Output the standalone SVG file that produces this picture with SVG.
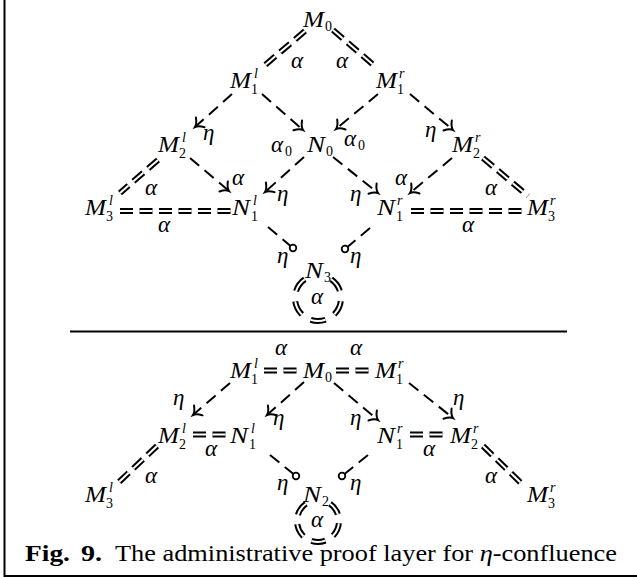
<svg xmlns="http://www.w3.org/2000/svg" width="637" height="577" viewBox="0 0 637 577">
<style>
.m{font-family:"Liberation Serif","Times New Roman",serif;font-style:italic;font-size:23px;fill:#000}
.s{font-family:"Liberation Serif","Times New Roman",serif;font-style:normal;font-size:14px;fill:#000}
.si{font-family:"Liberation Serif","Times New Roman",serif;font-style:italic;font-size:14px;fill:#000}
.cap{font-family:"Liberation Serif","Times New Roman",serif;font-size:23px;fill:#000}
.dbo{fill:none;stroke:#000;stroke-width:6;stroke-dasharray:13 6.5}
.dbi{fill:none;stroke:#fff;stroke-width:2;stroke-dasharray:13 6.5}
.ar{fill:none;stroke:#000;stroke-width:2;stroke-dasharray:12 7;marker-end:url(#to)}
.lp{fill:none;stroke:#000;stroke-width:2;stroke-dasharray:12 7}
.tip{fill:#fff;stroke:#000;stroke-width:1.8}
.rule{stroke:#000;stroke-width:2;fill:none}
</style>
<defs>
<marker id="to" markerUnits="userSpaceOnUse" markerWidth="20" markerHeight="20" refX="0" refY="0" viewBox="-10 -10 20 20" orient="auto" overflow="visible">
<path d="M-7,-6.5 C-4.5,-2.5 -2,-0.6 0,0 C-2,0.6 -4.5,2.5 -7,6.5" fill="none" stroke="#000" stroke-width="2" stroke-linecap="round" stroke-dasharray="none"/>
</marker>
</defs>
<rect width="637" height="577" fill="#fff"/>
<g id="frame">
<line class="rule" x1="4.5" y1="0" x2="4.5" y2="577"/>
<line class="rule" x1="4" y1="576" x2="637" y2="576"/>
<line class="rule" x1="70" y1="331.5" x2="567" y2="331.5"/>
</g>
<g id="connectors">
<path class="dbo" d="M305,31 L264,66"/><path class="dbi" d="M305,31 L264,66"/>
<path class="dbo" d="M333,30 L377,68"/><path class="dbi" d="M333,30 L377,68"/>
<path class="dbo" d="M158,160 L120,193"/><path class="dbi" d="M158,160 L120,193"/>
<path class="dbo" d="M483,158 L528,196"/><path class="dbi" d="M483,158 L528,196"/>
<path class="dbo" d="M120,211 L231,211"/><path class="dbi" d="M120,211 L231,211"/>
<path class="dbo" d="M411,211 L526,211"/><path class="dbi" d="M411,211 L526,211"/>
<path class="ar" d="M232,94 L195,127"/>
<path class="ar" d="M262,94 L303,130"/>
<path class="ar" d="M378,94 L336,129"/>
<path class="ar" d="M410,94 L453,130"/>
<path class="ar" d="M190,158 L229,191"/>
<path class="ar" d="M304,157 L265,192"/>
<path class="ar" d="M333,157 L378,193"/>
<path class="ar" d="M452,158 L410,193"/>
<path class="lp" d="M268,227 L293,248"/><circle class="tip" cx="293" cy="248" r="3.3"/>
<path class="lp" d="M370,228 L345,249"/><circle class="tip" cx="345" cy="249" r="3.3"/>
<path class="dbo" style="stroke-dasharray:15 10.3" d="M304.8,279.2 A23,23 0 1 0 331.2,279.2"/>
<path class="dbi" style="stroke-dasharray:15 10.3" d="M304.8,279.2 A23,23 0 1 0 331.2,279.2"/>
<path class="dbo" d="M264,370.5 L301,370.5"/><path class="dbi" d="M264,370.5 L301,370.5"/>
<path class="dbo" d="M336,370.5 L373,370.5"/><path class="dbi" d="M336,370.5 L373,370.5"/>
<path class="dbo" d="M193,434.5 L229,434.5"/><path class="dbi" d="M193,434.5 L229,434.5"/>
<path class="dbo" d="M410,434.5 L448,434.5"/><path class="dbi" d="M410,434.5 L448,434.5"/>
<path class="dbo" d="M157,446 L119,482"/><path class="dbi" d="M157,446 L119,482"/>
<path class="dbo" d="M483,446 L522,484"/><path class="dbi" d="M483,446 L522,484"/>
<path class="ar" d="M230,383 L193,415"/>
<path class="ar" d="M304,382 L267,415"/>
<path class="ar" d="M334,383 L378,420"/>
<path class="ar" d="M409,383 L453,418"/>
<path class="lp" d="M270,455 L296,476"/><circle class="tip" cx="296" cy="476" r="3.3"/>
<path class="lp" d="M368,455 L342,476"/><circle class="tip" cx="342" cy="476" r="3.3"/>
<path class="dbo" style="stroke-dasharray:14 9.1" d="M305.95,503.8 A21,21 0 1 0 330.05,503.8"/>
<path class="dbi" style="stroke-dasharray:14 9.1" d="M305.95,503.8 A21,21 0 1 0 330.05,503.8"/>
</g>
<g id="labels">
<text class="m" x="291" y="68">α</text>
<text class="m" x="336" y="68">α</text>
<text class="m" x="203" y="140">η</text>
<text class="m" x="271" y="152">α</text><text class="s" x="285" y="156">0</text>
<text class="m" x="344" y="146">α</text><text class="s" x="358" y="150">0</text>
<text class="m" x="425" y="137">η</text>
<text class="m" x="145" y="195">α</text>
<text class="m" x="232" y="185">α</text>
<text class="m" x="277" y="201">η</text>
<text class="m" x="350" y="201">η</text>
<text class="m" x="395" y="185">α</text>
<text class="m" x="485" y="195">α</text>
<text class="m" x="158" y="232">α</text>
<text class="m" x="462" y="232">α</text>
<text class="m" x="277" y="263">η</text>
<text class="m" x="350" y="263">η</text>
<text class="m" x="311" y="304">α</text>
<text class="m" x="275" y="355">α</text>
<text class="m" x="350" y="355">α</text>
<text class="m" x="173" y="405">η</text>
<text class="m" x="273" y="425">η</text>
<text class="m" x="350" y="425">η</text>
<text class="m" x="453" y="405">η</text>
<text class="m" x="205" y="456">α</text>
<text class="m" x="423" y="456">α</text>
<text class="m" x="145" y="483">α</text>
<text class="m" x="485" y="483">α</text>
<text class="m" x="277" y="490">η</text>
<text class="m" x="350" y="490">η</text>
<text class="m" x="311" y="527">α</text>
</g>
<g id="t-M0"><text class="m" x="303" y="27" textLength="21" lengthAdjust="spacingAndGlyphs">M</text><text class="s" x="325" y="31">0</text></g>
<g id="t-M1l"><text class="m" x="230" y="88" textLength="21" lengthAdjust="spacingAndGlyphs">M</text><text class="si" x="254" y="78">l</text><text class="s" x="251" y="94">1</text></g>
<g id="t-M1r"><text class="m" x="376" y="88" textLength="21" lengthAdjust="spacingAndGlyphs">M</text><text class="si" x="399" y="78">r</text><text class="s" x="397" y="94">1</text></g>
<g id="t-M2l"><text class="m" x="158" y="152" textLength="21" lengthAdjust="spacingAndGlyphs">M</text><text class="si" x="182" y="142">l</text><text class="s" x="179" y="158">2</text></g>
<g id="t-N0"><text class="m" x="307" y="152" textLength="18" lengthAdjust="spacingAndGlyphs">N</text><text class="s" x="326" y="156">0</text></g>
<g id="t-M2r"><text class="m" x="452" y="152" textLength="21" lengthAdjust="spacingAndGlyphs">M</text><text class="si" x="475" y="142">r</text><text class="s" x="473" y="158">2</text></g>
<g id="t-M3l"><text class="m" x="85" y="215" textLength="21" lengthAdjust="spacingAndGlyphs">M</text><text class="si" x="109" y="205">l</text><text class="s" x="106" y="221">3</text></g>
<g id="t-N1l"><text class="m" x="232" y="215" textLength="18" lengthAdjust="spacingAndGlyphs">N</text><text class="si" x="253" y="205">l</text><text class="s" x="251" y="221">1</text></g>
<g id="t-N1r"><text class="m" x="377" y="215" textLength="18" lengthAdjust="spacingAndGlyphs">N</text><text class="si" x="397" y="205">r</text><text class="s" x="396" y="221">1</text></g>
<g id="t-M3r"><text class="m" x="527" y="215" textLength="21" lengthAdjust="spacingAndGlyphs">M</text><text class="si" x="550" y="205">r</text><text class="s" x="548" y="221">3</text></g>
<g id="t-N3"><text class="m" x="305" y="278" textLength="18" lengthAdjust="spacingAndGlyphs">N</text><text class="s" x="324" y="282">3</text></g>
<g id="b-M1l"><text class="m" x="230" y="378" textLength="21" lengthAdjust="spacingAndGlyphs">M</text><text class="si" x="254" y="368">l</text><text class="s" x="251" y="384">1</text></g>
<g id="b-M0"><text class="m" x="303" y="378" textLength="21" lengthAdjust="spacingAndGlyphs">M</text><text class="s" x="325" y="382">0</text></g>
<g id="b-M1r"><text class="m" x="375" y="378" textLength="21" lengthAdjust="spacingAndGlyphs">M</text><text class="si" x="398" y="368">r</text><text class="s" x="396" y="384">1</text></g>
<g id="b-M2l"><text class="m" x="158" y="443" textLength="21" lengthAdjust="spacingAndGlyphs">M</text><text class="si" x="182" y="433">l</text><text class="s" x="179" y="449">2</text></g>
<g id="b-N1l"><text class="m" x="230" y="443" textLength="18" lengthAdjust="spacingAndGlyphs">N</text><text class="si" x="251" y="433">l</text><text class="s" x="249" y="449">1</text></g>
<g id="b-N1r"><text class="m" x="377" y="443" textLength="18" lengthAdjust="spacingAndGlyphs">N</text><text class="si" x="397" y="433">r</text><text class="s" x="396" y="449">1</text></g>
<g id="b-M2r"><text class="m" x="450" y="443" textLength="21" lengthAdjust="spacingAndGlyphs">M</text><text class="si" x="473" y="433">r</text><text class="s" x="471" y="449">2</text></g>
<g id="b-M3l"><text class="m" x="85" y="502" textLength="21" lengthAdjust="spacingAndGlyphs">M</text><text class="si" x="109" y="492">l</text><text class="s" x="106" y="508">3</text></g>
<g id="b-M3r"><text class="m" x="527" y="502" textLength="21" lengthAdjust="spacingAndGlyphs">M</text><text class="si" x="550" y="492">r</text><text class="s" x="548" y="508">3</text></g>
<g id="b-N2"><text class="m" x="303" y="502" textLength="18" lengthAdjust="spacingAndGlyphs">N</text><text class="s" x="322" y="506">2</text></g>
<g id="caption">
<text class="cap" x="25" y="561" font-weight="bold" textLength="45" lengthAdjust="spacingAndGlyphs">Fig.</text>
<text class="cap" x="81" y="561" font-weight="bold" textLength="21" lengthAdjust="spacingAndGlyphs">9.</text>
<text class="cap" x="115" y="561" textLength="502" lengthAdjust="spacingAndGlyphs">The administrative proof layer for <tspan font-style="italic">η</tspan>-confluence</text>
</g>
</svg>
